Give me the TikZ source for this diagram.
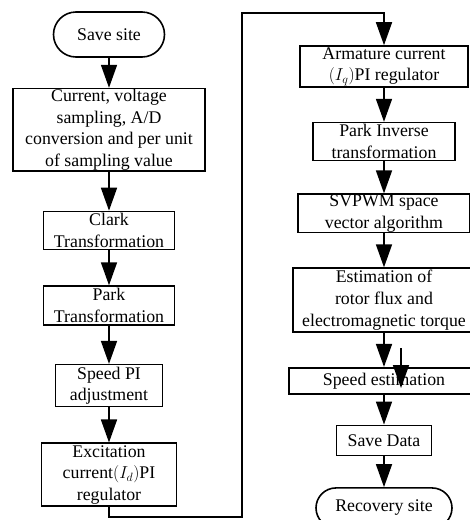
\documentclass[tikz,border=0pt]{standalone}
\usepackage{fontspec}
\setmainfont{Liberation Serif}
\usetikzlibrary{arrows.meta, positioning, shapes.misc}

\begin{document}
\begin{tikzpicture}[
      x=1pt, y=-1pt,
      node distance=30pt,
      box/.style={draw, line width=1.6pt, align=center, inner sep=0.5pt,
                  font=\fontsize{17.8}{21.7}\selectfont},
      term/.style={box, rounded rectangle},
      >={Triangle[length=23pt, width=16pt]}, line width=1.6pt
    ]
    \useasboundingbox (0,0) rectangle (470,520);
    % left column
    \node[term, minimum width=112pt, minimum height=45pt] (ss) at (109,34.5) {Save site};
    \node[box, below=30pt of ss, minimum width=192pt, minimum height=81pt]
          (samp) {Current, voltage\\ sampling, A/D\\ conversion and per unit\\ of sampling value};
    \node[box, below=39pt of samp, minimum width=131pt, minimum height=38pt]
          (clark) {Clark\\ Transformation};
    \node[box, below=35pt of clark, minimum width=131pt, minimum height=39pt]
          (park) {Park\\ Transformation};
    \node[box, below=38pt of park, minimum width=107pt, minimum height=42pt]
          (spi) {Speed PI\\ adjustment};
    \node[box, below=35pt of spi, minimum width=135pt, minimum height=63pt]
          (exc) {Excitation\\ current$\bigl(I_{d}\bigr)$PI\\ regulator};
    % right column
    \node[box, minimum width=168pt, minimum height=41pt] (arm) at (384,66.5)
          {Armature current\\ $\bigl(I_{q}\bigr)$PI regulator};
    \node[box, below=34pt of arm, minimum width=142pt, minimum height=38pt]
          (pinv) {Park Inverse\\ transformation};
    \node[box, below=32pt of pinv, minimum width=172pt, minimum height=37pt]
          (svp) {SVPWM space\\ vector algorithm};
    \node[box, below=34pt of svp, minimum width=182pt, minimum height=64pt]
          (est) {Estimation of\\ rotor flux and\\ electromagnetic torque};
    \node[box, below=34pt of est, minimum width=190pt, minimum height=26pt]
          (sest) {Speed estimation};
    \node[box, below=30pt of sest, minimum width=95pt, minimum height=30pt]
          (sd) {Save Data};
    \node[term, below=31pt of sd, minimum width=137pt, minimum height=40pt]
          (rec) {Recovery site};
    \coordinate (lp1) at (242,517);
    \coordinate (lp2) at (242,13);
    \coordinate (st1) at (401,348);
    \coordinate (st2) at (401,388);
    \draw[->] (ss) -- (samp);
    \draw[->] (samp) -- (clark);
    \draw[->] (clark) -- (park);
    \draw[->] (park) -- (spi);
    \draw[->] (spi) -- (exc);
    \draw[->] (exc.south) |- (lp1) -- (lp2) -| (arm.north);
    \draw[->] (arm) -- (pinv);
    \draw[->] (pinv) -- (svp);
    \draw[->] (svp) -- (est);
    \draw[->] (est) -- (sest);
    \draw[->] (st1) -- (st2);
    \draw[->] (sest) -- (sd);
    \draw[->] (sd) -- (rec);
  \end{tikzpicture}
\end{document}
